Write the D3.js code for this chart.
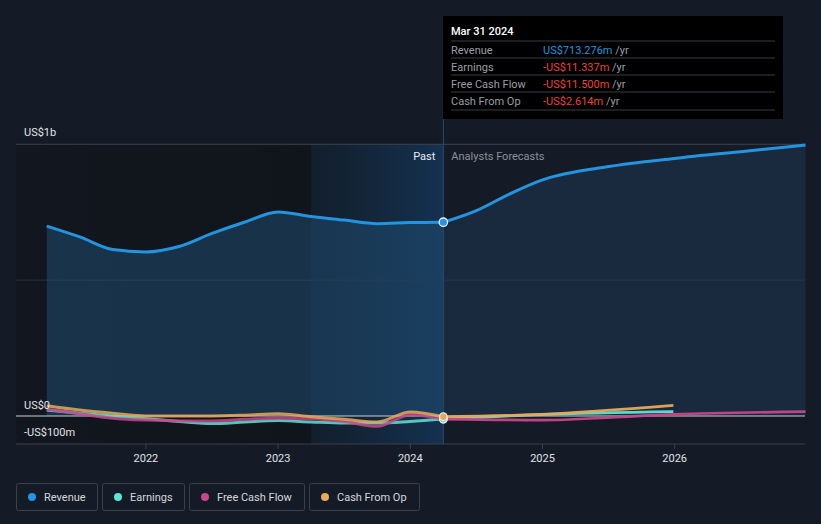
<!DOCTYPE html>
<html><head><meta charset="utf-8">
<script src="https://cdn.jsdelivr.net/npm/d3@7/dist/d3.min.js"></script>
<style>
html,body{margin:0;padding:0;background:#151b26;}
svg{display:block;font-family:Roboto,"Open Sans",sans-serif;}
</style></head><body>
<svg id="c" width="821" height="524"></svg>
<script>
// ---- data (values in US$ millions, time as decimal year) ----
const pastTimes = [2021.25,2021.5,2021.75,2022.0,2022.25,2022.5,2022.75,2023.0,2023.25,2023.5,2023.75,2024.0,2024.25];
const revenuePast  = [699,659,613,604,624,672,714,751,734,721,708,712,713.276];
const earningsPast = [22,10,0,-10,-20,-28,-22,-17,-22,-26,-26,-20,-11.337];
const fcfPast      = [25,8,-8,-15,-18,-18,-12,-8,-10,-20,-38,5,-11.5];
const cfoPast      = [38,22,10,0,0,0,3,8,-3,-12,-22,15,-2.614];

const revForecastTimes = [2024.25,2024.5,2024.75,2025.0,2025.5,2026.0,2026.5,2026.99];
const revenueForecast  = [713.276,756,817,869,918,948,973,997];
const earnForecastTimes = [2024.25,2024.99,2025.99];
const earningsForecast  = [-11.337,5,16];
const cfoForecast       = [-2.614,6,39];
const fcfForecastTimes  = [2024.25,2024.99,2025.99,2026.99];
const fcfForecast       = [-11.5,-15,6,16];

const yTicks = [{v:1000,label:"US$1b"},{v:500,label:""},{v:0,label:"US$0"},{v:-100,label:"-US$100m"}];
const xTickYears = [2022,2023,2024,2025,2026];
const legendNames = ["Revenue","Earnings","Free Cash Flow","Cash From Op"];
const colors = ["#2394df","#5fe3d3","#c8468a","#e8a95a"];
const tooltipRows = [
  {label:"Revenue", value:"US$713.276m", neg:false},
  {label:"Earnings", value:"-US$11.337m", neg:true},
  {label:"Free Cash Flow", value:"-US$11.500m", neg:true},
  {label:"Cash From Op", value:"-US$2.614m", neg:true}
];
const nowT = 2024.25;

// ---- scales ----
const svg = d3.select("#c");
const x = d3.scaleLinear().domain([2024, 2025]).range([410.3, 542.5]);
const y = d3.scaleLinear().domain([0, 1000]).range([416, 144.3]);
const pLeft = 16, pRight = 805, axisY = 444, pTop = 144;

const defs = svg.append("defs");
const g1 = defs.append("linearGradient").attr("id","pastBg").attr("x1","0").attr("x2","1");
g1.append("stop").attr("offset","0").attr("stop-color","#12171f").attr("stop-opacity",1);
g1.append("stop").attr("offset","1").attr("stop-color","#10141b").attr("stop-opacity",1);
const g2 = defs.append("linearGradient").attr("id","hiBand").attr("x1","0").attr("x2","1");
g2.append("stop").attr("offset","0").attr("stop-color","#15304a").attr("stop-opacity",0.35);
g2.append("stop").attr("offset","1").attr("stop-color","#15375a").attr("stop-opacity",0.85);

svg.append("rect").attr("x",pLeft).attr("y",pTop).attr("width",x(nowT)-pLeft).attr("height",axisY-pTop).attr("fill","url(#pastBg)");
svg.append("rect").attr("x",x(nowT-1)).attr("y",pTop).attr("width",x(nowT)-x(nowT-1)).attr("height",axisY-pTop).attr("fill","url(#hiBand)");

yTicks.filter(t=>t.v>0).forEach(t=>{
  svg.append("line").attr("x1",pLeft).attr("x2",pRight).attr("y1",y(t.v)).attr("y2",y(t.v))
    .attr("stroke", t.v===1000?"#3b414b":"#2a313c").attr("stroke-width",1);
});

const pastRev = pastTimes.map((t,i)=>({t, v:revenuePast[i]}));
const fcRev = revForecastTimes.map((t,i)=>({t, v:revenueForecast[i]}));
const area = d3.area().x(d=>x(d.t)).y0(y(0)).y1(d=>y(d.v)).curve(d3.curveMonotoneX);
svg.append("path").datum(pastRev).attr("d",area).attr("fill","#1f4a70").attr("fill-opacity",0.55);
svg.append("path").datum(fcRev).attr("d",area).attr("fill","#1d3a58").attr("fill-opacity",0.5);

svg.append("line").attr("x1",pLeft).attr("x2",pRight).attr("y1",y(0)).attr("y2",y(0)).attr("stroke","#c9cdd3").attr("stroke-width",1.2);

const line = d3.line().x(d=>x(d.t)).y(d=>y(d.v)).curve(d3.curveMonotoneX);
function series(times, vals){ return times.map((t,i)=>({t, v:vals[i]})); }

const smallSeries = [
  {past: earningsPast, fcT: earnForecastTimes, fc: earningsForecast, c: colors[1]},
  {past: fcfPast, fcT: fcfForecastTimes, fc: fcfForecast, c: colors[2]},
  {past: cfoPast, fcT: earnForecastTimes, fc: cfoForecast, c: colors[3]}
];
smallSeries.forEach(s=>{
  svg.append("path").datum(series(s.fcT, s.fc)).attr("d",line).attr("fill","none")
    .attr("stroke",s.c).attr("stroke-width",2.6).attr("stroke-opacity",0.95);
});
smallSeries.forEach(s=>{
  svg.append("path").datum(series(pastTimes, s.past)).attr("d",line).attr("fill","none")
    .attr("stroke",s.c).attr("stroke-width",3).attr("stroke-opacity",0.85);
});

svg.append("path").datum(pastRev).attr("d",line).attr("fill","none").attr("stroke",colors[0]).attr("stroke-width",3);
svg.append("path").datum(fcRev).attr("d",line).attr("fill","none").attr("stroke",colors[0]).attr("stroke-width",3);

svg.append("line").attr("x1",x(nowT)).attr("x2",x(nowT)).attr("y1",16).attr("y2",axisY).attr("stroke","#2e4a66").attr("stroke-width",1);

svg.append("circle").attr("cx",x(nowT)).attr("cy",y(revenuePast[revenuePast.length-1])).attr("r",4.2)
  .attr("fill",colors[0]).attr("stroke","#e8ecf2").attr("stroke-width",1.3);
[[fcfPast,colors[2]],[earningsPast,colors[1]],[cfoPast,colors[3]]].forEach(([arr,c])=>{
  svg.append("circle").attr("cx",x(nowT)).attr("cy",y(arr[arr.length-1])).attr("r",3.8)
    .attr("fill",c).attr("stroke","#e8ecf2").attr("stroke-width",1.2);
});

svg.append("line").attr("x1",pLeft).attr("x2",pRight).attr("y1",axisY).attr("y2",axisY).attr("stroke","#3b414b").attr("stroke-width",1);
xTickYears.forEach(yr=>{
  svg.append("line").attr("x1",x(yr)).attr("x2",x(yr)).attr("y1",axisY).attr("y2",axisY+5).attr("stroke","#3b414b");
  svg.append("text").attr("x",x(yr)).attr("y",axisY+18).attr("text-anchor","middle")
    .attr("fill","#e0e3e8").attr("font-size",11).text(yr);
});

svg.append("text").attr("x",24).attr("y",136).attr("fill","#e0e3e8").attr("font-size",11).text(yTicks[0].label);
svg.append("text").attr("x",24).attr("y",409).attr("fill","#e0e3e8").attr("font-size",11).text(yTicks[2].label);
svg.append("text").attr("x",24).attr("y",436).attr("fill","#e0e3e8").attr("font-size",11).text(yTicks[3].label);

svg.append("text").attr("x",x(nowT)-8).attr("y",160).attr("text-anchor","end").attr("fill","#e8ebef").attr("font-size",11).text("Past");
svg.append("text").attr("x",x(nowT)+8).attr("y",160).attr("fill","#8a9099").attr("font-size",11).text("Analysts Forecasts");

const tt = svg.append("g");
tt.append("rect").attr("x",443).attr("y",16).attr("width",340).attr("height",103).attr("fill","#000");
tt.append("text").attr("x",451).attr("y",35).attr("fill","#fff").attr("font-size",11).attr("font-weight",500).text("Mar 31 2024");
const rowY = [41,58,75,92,110];
rowY.forEach(ry=>tt.append("line").attr("x1",451).attr("x2",775).attr("y1",ry).attr("y2",ry).attr("stroke","#3a3d42"));
tooltipRows.forEach((r,i)=>{
  const by = rowY[i]+12.5;
  tt.append("text").attr("x",451).attr("y",by).attr("fill","#9a9ea5").attr("font-size",11).text(r.label);
  const t = tt.append("text").attr("x",543).attr("y",by).attr("font-size",11);
  t.append("tspan").attr("fill", r.neg?"#ee4141":"#2394df").text(r.value);
  t.append("tspan").attr("fill","#9a9ea5").text(" /yr");
});

const legX = [16,102,189,309], legW = [81,82,115,110];
legendNames.forEach((n,i)=>{
  const g = svg.append("g");
  g.append("rect").attr("x",legX[i]+0.5).attr("y",483.5).attr("width",legW[i]).attr("height",27).attr("rx",2)
    .attr("fill","none").attr("stroke","#3b414b");
  g.append("circle").attr("cx",legX[i]+16).attr("cy",497).attr("r",4).attr("fill",colors[i]);
  g.append("text").attr("x",legX[i]+28).attr("y",501).attr("fill","#d5d8dd").attr("font-size",11).text(n);
});
</script>
</body></html>
